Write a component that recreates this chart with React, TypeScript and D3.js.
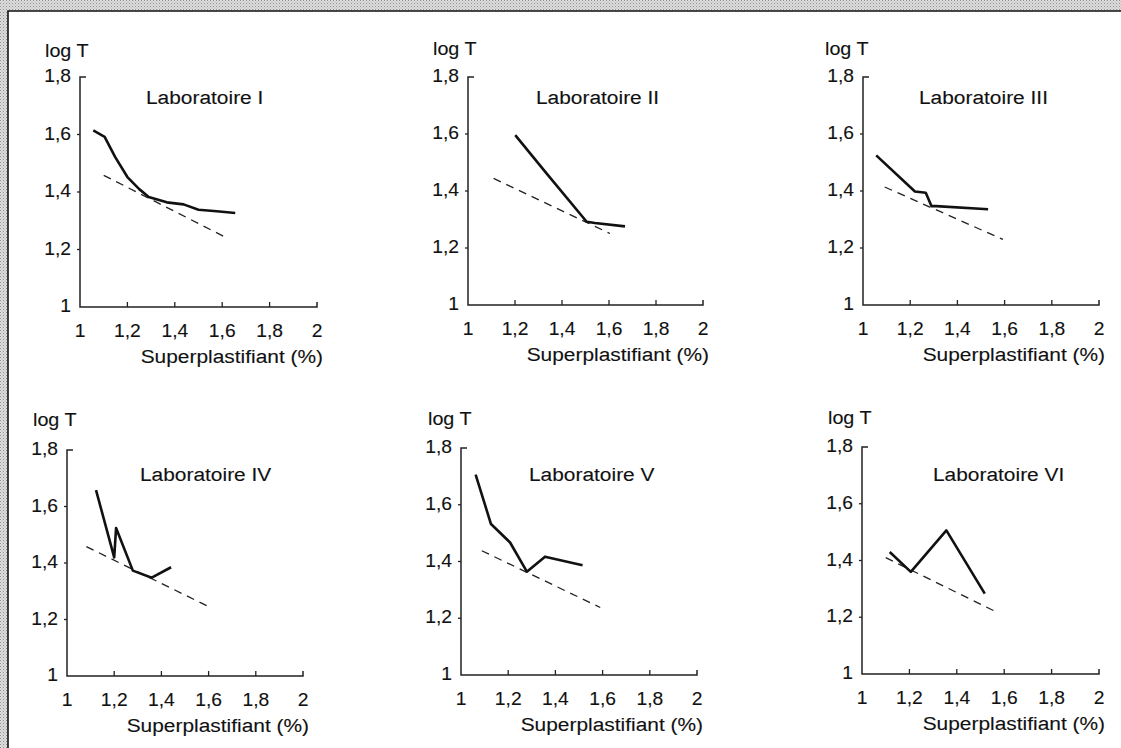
import * as d3 from "d3";

// measured curves, [superplastifiant %, log T]
const labI = [[1.056, 1.614], [1.104, 1.592], [1.148, 1.522], [1.2, 1.452], [1.25, 1.41], [1.29, 1.383], [1.366, 1.364], [1.437, 1.357], [1.5, 1.338], [1.577, 1.333], [1.655, 1.327]];
const labII = [[1.201, 1.596], [1.335, 1.461], [1.505, 1.292], [1.54, 1.288], [1.668, 1.276]];
const labIII = [[1.056, 1.525], [1.22, 1.398], [1.266, 1.394], [1.29, 1.347], [1.31, 1.347], [1.53, 1.336]];
const labIV = [[1.123, 1.658], [1.2, 1.42], [1.208, 1.524], [1.279, 1.373], [1.359, 1.348], [1.441, 1.385]];
const labV = [[1.062, 1.706], [1.127, 1.532], [1.208, 1.467], [1.279, 1.364], [1.356, 1.417], [1.515, 1.387]];
const labVI = [[1.117, 1.43], [1.206, 1.36], [1.356, 1.506], [1.518, 1.283]];

// dashed reference lines
const trendI = [[1.1, 1.458], [1.613, 1.243]];
const trendII = [[1.109, 1.444], [1.604, 1.251]];
const trendIII = [[1.092, 1.414], [1.593, 1.23]];
const trendIV = [[1.082, 1.458], [1.592, 1.249]];
const trendV = [[1.088, 1.438], [1.59, 1.238]];
const trendVI = [[1.1, 1.41], [1.561, 1.221]];

const titles = ["Laboratoire I", "Laboratoire II", "Laboratoire III", "Laboratoire IV", "Laboratoire V", "Laboratoire VI"];
const xTicks = [1, 1.2, 1.4, 1.6, 1.8, 2];
const yTicks = [1, 1.2, 1.4, 1.6, 1.8];

const curves = [labI, labII, labIII, labIV, labV, labVI];
const trends = [trendI, trendII, trendIII, trendIV, trendV, trendVI];

// panel boxes: left/right = x 1..2, top/bottom = y 1.8..1
const panels = [
  { l: 80, r: 317, t: 77, b: 307, titleDx: 66, titleDy: 27, logDx: -35, logDy: -20 },
  { l: 468, r: 703, t: 77, b: 305, titleDx: 68, titleDy: 27, logDx: -35, logDy: -22 },
  { l: 863, r: 1099, t: 77, b: 305, titleDx: 56, titleDy: 27, logDx: -38, logDy: -22 },
  { l: 67, r: 303, t: 450, b: 676, titleDx: 73, titleDy: 31, logDx: -34, logDy: -24 },
  { l: 461, r: 697, t: 448, b: 675, titleDx: 68, titleDy: 33, logDx: -33, logDy: -23 },
  { l: 862, r: 1099, t: 447, b: 674, titleDx: 71, titleDy: 34, logDx: -34, logDy: -23 },
];

const fmt = (v: number) => d3.format("~g")(v).replace(".", ",");
const font = "Liberation Sans, Arial, Helvetica, sans-serif";
const SX = 1.1;

const Txt = ({ x, y, size, anchor = "start", sx = SX, children }: any) => (
  <text
    transform={`translate(${x},${y}) scale(${sx},1)`}
    fontSize={size}
    fontFamily={font}
    textAnchor={anchor}
    fill="#111"
    stroke="#111"
    strokeWidth={0.12}
  >
    {children}
  </text>
);

const Panel = ({ i }: { i: number }) => {
  const p = panels[i];
  const x = d3.scaleLinear().domain([1, 2]).range([p.l, p.r]);
  const y = d3.scaleLinear().domain([1, 1.8]).range([p.b, p.t]);
  const line = d3
    .line<number[]>()
    .x((d) => x(d[0]))
    .y((d) => y(d[1]));

  return (
    <g>
      <Txt x={p.l + p.logDx} y={p.t + p.logDy} size={19} sx={1.04}>
        log T
      </Txt>
      <Txt x={p.l + p.titleDx} y={p.t + p.titleDy} size={19}>
        {titles[i]}
      </Txt>
      {/* axes */}
      <path
        d={`M${p.l + 6},${p.t}H${p.l}V${p.b}H${p.r}V${p.b - 5}`}
        fill="none"
        stroke="#222"
        strokeWidth={1.5}
      />
      {yTicks.map((t) => (
        <g key={t}>
          {t > 1 && t < 1.8 && (
            <line x1={p.l - 3} x2={p.l} y1={y(t)} y2={y(t)} stroke="#222" strokeWidth={1.3} />
          )}
          <Txt x={p.l - 9} y={y(t) + 5} size={17.5} anchor="end">
            {fmt(t)}
          </Txt>
        </g>
      ))}
      {xTicks.map((t) => (
        <g key={t}>
          {t > 1 && t < 2 && (
            <line x1={x(t)} x2={x(t)} y1={p.b} y2={p.b - 5} stroke="#222" strokeWidth={1.3} />
          )}
          <Txt x={x(t)} y={p.b + 30} size={17.5} anchor="middle">
            {fmt(t)}
          </Txt>
        </g>
      ))}
      <Txt x={p.r + 6} y={p.b + 56} size={19} anchor="end">
        Superplastifiant (%)
      </Txt>
      <path
        d={line(trends[i]) ?? ""}
        fill="none"
        stroke="#222"
        strokeWidth={1.3}
        strokeDasharray="8,6"
      />
      <path
        d={line(curves[i]) ?? ""}
        fill="none"
        stroke="#111"
        strokeWidth={2.6}
        strokeLinejoin="round"
      />
    </g>
  );
};

export default function App() {
  const width = 1121;
  const height = 748;
  return (
    <svg
      width={width}
      height={height}
      style={{ position: "absolute", left: 0, top: 0, display: "block" }}
    >
      <defs>
        <pattern id="dots" width={3} height={3} patternUnits="userSpaceOnUse">
          <rect width={3} height={3} fill="#dedede" />
          <rect width={1} height={1} fill="#8f8f8f" />
          <rect x={1.5} y={1.5} width={1} height={1} fill="#a8a8a8" />
        </pattern>
      </defs>
      <rect width={width} height={height} fill="url(#dots)" />
      <rect x={8} y={11} width={width - 8} height={height - 11} fill="#fff" />
      <path d={`M8,${height}V11H${width}`} fill="none" stroke="#111" strokeWidth={1.6} />
      {panels.map((_, i) => (
        <Panel key={i} i={i} />
      ))}
    </svg>
  );
}
